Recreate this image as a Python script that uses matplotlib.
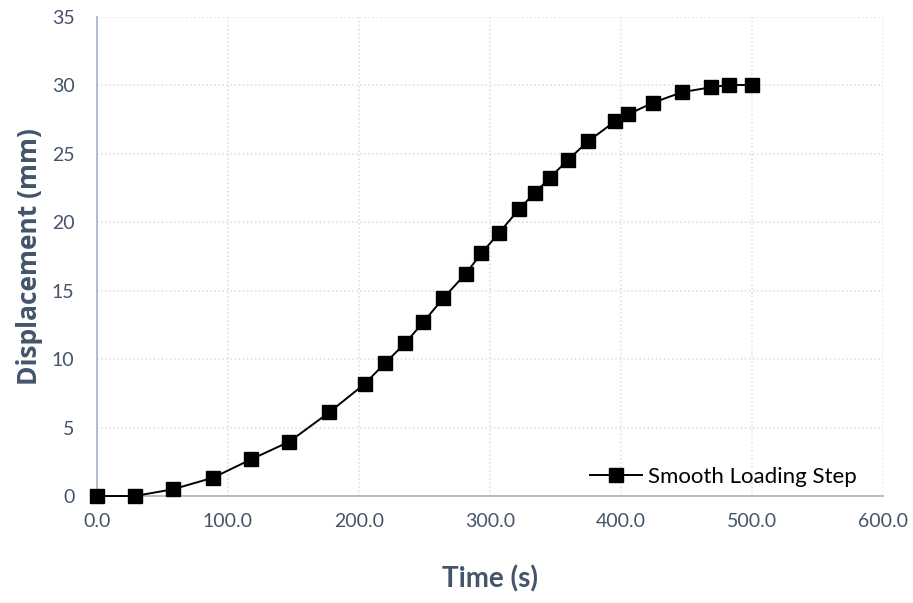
import numpy as np
import matplotlib
matplotlib.use('Agg')
from matplotlib import pyplot as plt
from matplotlib.ticker import FormatStrFormatter

#Smooth loading step - displacement vs time
time_s = [0, 29, 58, 88.8, 117.8, 147, 177.4, 204.6, 219.8, 235.4, 249.1, 264.6,
          281.5, 293.6, 307, 322.3, 334.1, 346, 359.7, 375, 395.7, 405.6, 424.5,
          446.8, 468.8, 482.5, 500]
disp_mm = [0, 0, 0.49, 1.34, 2.68, 3.97, 6.11, 8.2, 9.69, 11.16, 12.69, 14.46,
           16.23, 17.73, 19.22, 20.95, 22.13, 23.26, 24.56, 25.91, 27.38, 27.88,
           28.73, 29.5, 29.86, 30.03, 30.02]
series_name = 'Smooth Loading Step'

txt_color = '#44546A'
plt.rcParams['font.family'] = ['Lato', 'DejaVu Sans']

fig = plt.figure(figsize=(9.13, 6.03), dpi=100)
ax = fig.add_axes([0.106, 0.1774, 0.861, 0.7946])

ax.plot(time_s, disp_mm, color='black', lw=1.4, marker='s', markersize=10,
        label=series_name, clip_on=False, zorder=3)

ax.set_xlim(0, 600)
ax.set_ylim(0, 35)
ax.set_xticks(np.arange(0, 601, 100))
ax.set_yticks(np.arange(0, 36, 5))
ax.xaxis.set_major_formatter(FormatStrFormatter('%.1f'))

#Excel-like dotted grid
ax.grid(True, linestyle=':', color='#D6DCE5', lw=1.1)
ax.set_axisbelow(True)
for s in ['top', 'right']:
    ax.spines[s].set_visible(False)
for s in ['left', 'bottom']:
    ax.spines[s].set_color('#ADB9CA')
    ax.spines[s].set_linewidth(1.3)

ax.tick_params(length=0, labelsize=14, colors=txt_color)
ax.tick_params(axis='x', pad=12)
ax.tick_params(axis='y', pad=16)
ax.set_xlabel('Time (s)', fontsize=20, fontweight='bold', color=txt_color, labelpad=26)
ax.set_ylabel('Displacement (mm)', fontsize=19, fontweight='bold', color=txt_color,
              labelpad=6, family=['Open Sans', 'DejaVu Sans'])

leg = ax.legend(loc='center right', frameon=False, fontsize=16, handlelength=2.3,
                handletextpad=0.3, borderpad=0, borderaxespad=0,
                bbox_to_anchor=(0.967, 0.04))

plt.savefig('out.png', dpi=100)
